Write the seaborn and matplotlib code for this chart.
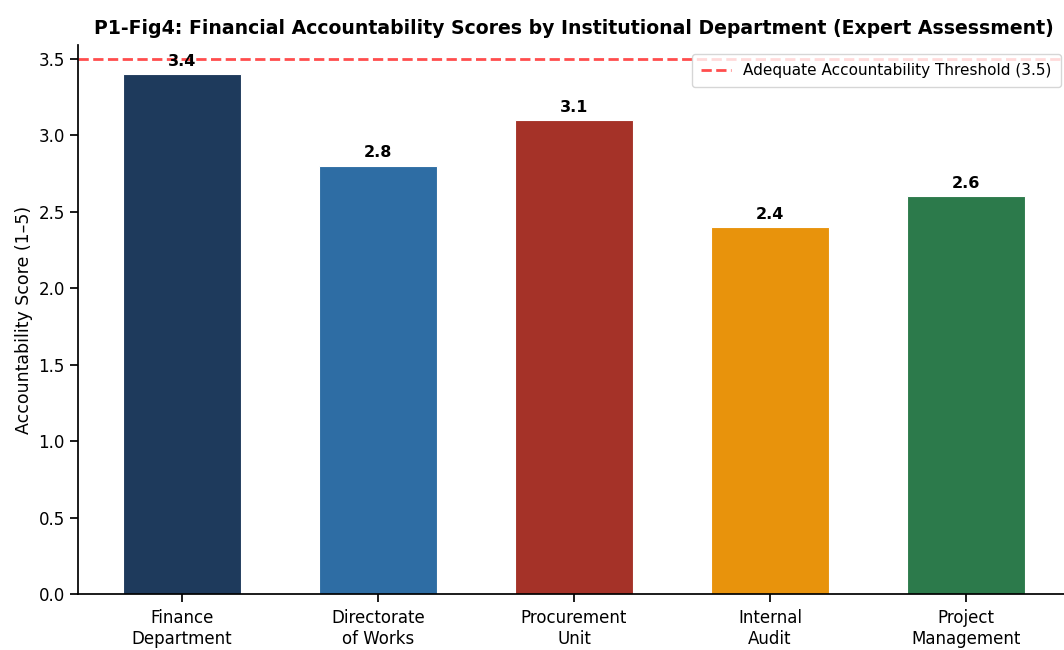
import matplotlib
matplotlib.use("Agg")
import matplotlib.pyplot as plt
import seaborn as sns
import pandas as pd

departments = ["Finance\nDepartment", "Directorate\nof Works", "Procurement\nUnit",
               "Internal\nAudit", "Project\nManagement"]
scores = [3.4, 2.8, 3.1, 2.4, 2.6]
bar_colors = ["#1e3a5c", "#2e6da4", "#a53228", "#e8930c", "#2c7a4b"]
threshold = 3.5

sns.set_theme(style="ticks")
plt.rcParams["font.family"] = ["DejaVu Sans"]
plt.rcParams.update({"text.color": "black", "axes.labelcolor": "black",
                     "xtick.color": "black", "ytick.color": "black",
                     "axes.edgecolor": "black"})

df = pd.DataFrame({"Department": departments, "Score": scores})

fig = plt.figure(figsize=(10.64, 6.5), dpi=100)
ax = fig.add_axes([78 / 1064, 56 / 650, 992 / 1064, 549 / 650])

sns.barplot(data=df, x="Department", y="Score", hue="Department",
            palette=bar_colors, saturation=1, width=0.6, legend=False, ax=ax,
            edgecolor="white", linewidth=0.8)

ax.axhline(threshold, color="#ff4d4d", linestyle="--", linewidth=2,
           label=f"Adequate Accountability Threshold ({threshold})")

for i, v in enumerate(scores):
    ax.text(i, v + 0.035, f"{v}", ha="center", va="bottom",
            fontsize=11.5, fontweight="bold", color="black")

ax.set_ylim(0, 3.59)
ax.set_xlim(-0.53, 4.53)
ax.set_xlabel("")
ax.set_ylabel("Accountability Score (1–5)", fontsize=12.5)
ax.set_title("P1-Fig4: Financial Accountability Scores by Institutional Department (Expert Assessment)",
             fontsize=13.6, fontweight="bold", pad=8)
ax.tick_params(axis="both", labelsize=12)
ax.tick_params(axis="x", pad=5)
ax.legend(loc="upper right", bbox_to_anchor=(1061 / 1064, 596 / 650),
          bbox_transform=fig.transFigure, borderaxespad=0, borderpad=0.6,
          fontsize=11, frameon=True)
sns.despine(ax=ax)

fig.savefig("out.png", dpi=100)
